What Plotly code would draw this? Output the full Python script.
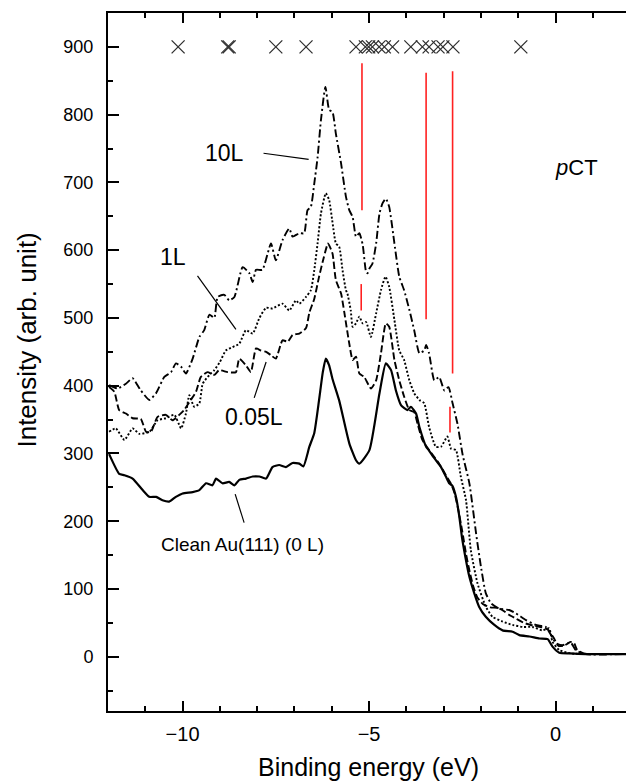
import plotly.graph_objects as go

# ---- photoemission spectra: binding energy (eV) vs intensity (arb. unit) ----
clean_x = [-11.97, -11.70, -11.56, -11.34, -11.07, -10.89, -10.71, -10.54, -10.36, -10.18,
           -10.00, -9.73, -9.55, -9.37, -9.20, -9.10, -8.93, -8.75, -8.61, -8.48,
           -8.30, -8.12, -7.94, -7.76, -7.59, -7.41, -7.23, -7.05, -6.87, -6.76,
           -6.60, -6.47, -6.34, -6.24, -6.16, -6.07, -5.98, -5.80, -5.53, -5.35,
           -5.26, -4.99, -4.72, -4.55, -4.41, -4.28, -4.14, -3.97, -3.88, -3.74,
           -3.65, -3.47, -3.40, -3.25, -3.07, -2.94, -2.85, -2.76, -2.67, -2.58,
           -2.51, -2.42, -2.31, -2.18, -2.05, -1.87, -1.64, -1.42, -1.15, -0.97,
           -0.70, -0.43, -0.21, -0.08, 0.10, 0.37, 0.81, 1.53, 1.89]
clean_y = [299, 270, 268, 263, 246, 236, 236, 231, 229, 236,
           241, 243, 246, 256, 253, 263, 256, 258, 253, 261,
           263, 266, 266, 263, 280, 283, 280, 286, 285, 281,
           310, 330, 379, 420, 440, 430, 410, 378, 315, 290,
           285, 305, 389, 433, 423, 393, 371, 364, 369, 359,
           339, 310, 305, 293, 280, 266, 256, 252, 236, 207,
           177, 148, 118, 94, 74, 59, 47, 39, 37, 32,
           30, 27, 26, 15, 6, 5, 4, 4, 4]

l005_x = [-11.97, -11.83, -11.70, -11.52, -11.34, -11.12, -10.98, -10.85, -10.67, -10.45,
          -10.27, -10.09, -9.96, -9.78, -9.64, -9.51, -9.33, -9.15, -9.02, -8.79,
          -8.57, -8.48, -8.30, -8.17, -8.03, -7.90, -7.76, -7.63, -7.50, -7.32,
          -7.18, -7.05, -6.87, -6.69, -6.60, -6.47, -6.34, -6.21, -6.10, -5.98,
          -5.89, -5.75, -5.66, -5.53, -5.44, -5.35, -5.26, -5.13, -4.95, -4.81,
          -4.68, -4.55, -4.46, -4.32, -4.19, -4.06, -3.92, -3.79, -3.70, -3.57,
          -3.39, -3.12, -2.94, -2.80, -2.70, -2.60, -2.50, -2.40, -2.30, -2.20,
          -2.10, -1.95, -1.75, -1.55, -1.40, -1.25, -1.05, -0.85, -0.60, -0.40,
          -0.20, -0.05, 0.08, 0.25, 0.40, 0.50, 0.58, 0.75, 1.20, 1.89]
l005_y = [398, 391, 364, 359, 352, 351, 332, 332, 354, 357,
          349, 357, 364, 379, 391, 413, 420, 416, 423, 420,
          420, 440, 430, 420, 455, 452, 450, 445, 440, 467,
          465, 475, 477, 485, 508, 528, 561, 590, 610, 595,
          556, 536, 507, 462, 438, 443, 418, 413, 396, 408,
          448, 492, 487, 438, 408, 384, 364, 361, 344, 320,
          305, 285, 268, 255, 240, 215, 185, 152, 125, 103,
          88, 78, 73, 72, 68, 62, 56, 50, 46, 44,
          40, 28, 16, 17, 22, 20, 10, 5, 4, 4]

l1_x = [-11.97, -11.79, -11.56, -11.34, -11.16, -10.89, -10.67, -10.45, -10.22, -10.04,
        -9.91, -9.82, -9.69, -9.55, -9.46, -9.28, -9.15, -9.00, -8.84, -8.66,
        -8.48, -8.30, -8.12, -7.94, -7.76, -7.59, -7.32, -7.14, -6.96, -6.87,
        -6.69, -6.56, -6.47, -6.38, -6.29, -6.16, -6.07, -5.98, -5.89, -5.80,
        -5.71, -5.62, -5.58, -5.49, -5.44, -5.35, -5.26, -5.17, -5.08, -4.95,
        -4.81, -4.68, -4.56, -4.46, -4.32, -4.19, -4.06, -3.92, -3.79, -3.65,
        -3.52, -3.39, -3.21, -3.07, -2.90, -2.80, -2.67, -2.54, -2.40, -2.27,
        -2.09, -1.87, -1.69, -1.42, -1.15, -0.88, -0.62, -0.35, -0.17, -0.08,
        0.10, 0.40, 1.00, 1.89]
l1_y = [332, 337, 320, 337, 329, 332, 349, 352, 357, 337,
        359, 386, 369, 374, 403, 416, 423, 435, 452, 457,
        462, 482, 477, 500, 515, 514, 521, 511, 526, 521,
        531, 541, 570, 610, 654, 684, 674, 641, 610, 605,
        570, 541, 536, 511, 487, 492, 502, 492, 494, 472,
        507, 541, 561, 546, 497, 452, 438, 408, 389, 379,
        374, 339, 310, 310, 325, 307, 305, 266, 231, 157,
        108, 74, 59, 52, 47, 44, 44, 39, 42, 22,
        10, 5, 4, 4]

l10_x = [-11.97, -11.74, -11.52, -11.34, -11.12, -10.89, -10.71, -10.49, -10.31, -10.18,
         -10.04, -9.91, -9.73, -9.55, -9.42, -9.28, -9.15, -9.06, -8.88, -8.75,
         -8.61, -8.39, -8.21, -8.12, -8.03, -7.86, -7.63, -7.50, -7.32, -7.14,
         -7.05, -6.87, -6.74, -6.65, -6.56, -6.47, -6.38, -6.29, -6.17, -6.07,
         -5.98, -5.89, -5.75, -5.62, -5.53, -5.44, -5.35, -5.26, -5.17, -5.08,
         -5.04, -4.99, -4.91, -4.81, -4.72, -4.64, -4.55, -4.46, -4.32, -4.19,
         -4.06, -3.92, -3.79, -3.65, -3.52, -3.47, -3.39, -3.25, -3.12, -2.98,
         -2.87, -2.76, -2.63, -2.49, -2.31, -2.13, -2.00, -1.87, -1.73, -1.51,
         -1.24, -1.06, -0.79, -0.53, -0.26, -0.12, 0.01, 0.19, 0.41, 0.54,
         0.81, 1.89]
l10_y = [401, 396, 403, 411, 393, 379, 389, 413, 420, 433,
         428, 418, 440, 472, 482, 505, 500, 531, 534, 526,
         531, 575, 566, 553, 571, 571, 610, 585, 615, 632,
         620, 625, 625, 659, 664, 698, 737, 792, 841, 807,
         804, 772, 728, 679, 659, 649, 620, 625, 608, 568,
         566, 573, 580, 610, 654, 669, 676, 664, 610, 561,
         541, 512, 482, 448, 452, 460, 448, 408, 413, 393,
         398, 374, 344, 298, 256, 182, 133, 94, 79, 71,
         69, 64, 54, 47, 44, 32, 20, 17, 21, 10,
         4, 4]

# ---- calculated level positions (crosses along the top) ----
level_x = [-10.12, -8.79, -8.75, -7.50, -6.69, -5.35, -5.10, -5.01, -4.91, -4.73,
           -4.59, -4.37, -3.88, -3.57, -3.39, -3.15, -3.02, -2.75, -0.93]
level_y = [900] * len(level_x)

# ---- red marker bars: energy, bottom, top ----
bar_x = [-5.19, -5.21, -3.47, -2.76, -2.83]
bar_lo = [659, 511, 498, 418, 331]
bar_hi = [876, 550, 862, 864, 369]

# ---- curve labels with leader lines ----
label_text = ["10L", "1L", "0.05L"]
label_x = [-8.88, -10.25, -8.08]
label_y = [743, 590, 354]
leader_x0 = [-7.83, -9.60, -7.76, -8.59]
leader_y0 = [743, 562, 435, 240]
leader_x1 = [-6.62, -8.57, -8.08, -8.35]
leader_y1 = [734, 483, 382, 198]

fig = go.Figure()

line_base = dict(color="black", shape="spline", smoothing=0.5)
fig.add_trace(go.Scatter(x=clean_x, y=clean_y, mode="lines",
                         line=dict(width=2.2, dash="solid", **line_base)))
fig.add_trace(go.Scatter(x=l005_x, y=l005_y, mode="lines",
                         line=dict(width=1.9, dash="7px,3px", **line_base)))
fig.add_trace(go.Scatter(x=l1_x, y=l1_y, mode="lines",
                         line=dict(width=1.9, dash="2px,2px", **line_base)))
fig.add_trace(go.Scatter(x=l10_x, y=l10_y, mode="lines",
                         line=dict(width=1.9, dash="8px,3px,2px,3px", **line_base)))

# red bars, drawn as one broken line
rx, ry = [], []
for x, lo, hi in zip(bar_x, bar_lo, bar_hi):
    rx += [x, x, None]
    ry += [lo, hi, None]
fig.add_trace(go.Scatter(x=rx, y=ry, mode="lines",
                         line=dict(color="#ff2020", width=1.6)))

fig.add_trace(go.Scatter(x=level_x, y=level_y, mode="markers",
                         marker=dict(symbol="x-thin", size=13, color="#303030",
                                     line=dict(width=1.3, color="#303030"))))

for x0, y0, x1, y1 in zip(leader_x0, leader_y0, leader_x1, leader_y1):
    fig.add_shape(type="line", x0=x0, y0=y0, x1=x1, y1=y1,
                  line=dict(color="black", width=1.2))

for t, x, y in zip(label_text, label_x, label_y):
    fig.add_annotation(x=x, y=y, text=t, showarrow=False,
                       font=dict(family="Liberation Sans, Arial", size=23, color="black"))

fig.add_annotation(x=-8.40, y=165, text="Clean Au(111) (0 L)", showarrow=False,
                   font=dict(family="Liberation Sans, Arial", size=19, color="black"))
fig.add_annotation(x=0.56, y=722, text="<i>p</i>CT", showarrow=False,
                   font=dict(family="Liberation Sans, Arial", size=22, color="black"))

# axis titles
fig.add_annotation(xref="paper", yref="paper", x=0.503, y=-0.08,
                   xanchor="center", yanchor="middle",
                   text="Binding energy (eV)", showarrow=False,
                   font=dict(family="Liberation Sans, Arial", size=25, color="black"))
fig.add_annotation(xref="paper", yref="paper", x=-0.156, y=0.531,
                   xanchor="center", yanchor="middle",
                   text="Intensity (arb. unit)", showarrow=False, textangle=-90,
                   font=dict(family="Liberation Sans, Arial", size=26, color="black"))

fig.update_layout(
    width=626, height=782, autosize=False,
    margin=dict(l=108, r=0, t=13, b=71),
    paper_bgcolor="white", plot_bgcolor="white",
    showlegend=False,
    xaxis=dict(range=[-12, 1.89], showgrid=False, zeroline=False,
               showline=True, linewidth=2, linecolor="black", mirror="ticks",
               ticks="inside", ticklen=10, tickwidth=1.6, tickcolor="black",
               tickvals=[-10, -5, 0], ticktext=["\u221210", "\u22125", "0"],
               minor=dict(dtick=1, tick0=0, ticks="inside", ticklen=5,
                          tickwidth=1.6, tickcolor="black", showgrid=False),
               ticklabelstandoff=4,
               tickfont=dict(family="Liberation Sans, Arial", size=20, color="black")),
    yaxis=dict(range=[-80, 950], showgrid=False, zeroline=False,
               showline=True, linewidth=2, linecolor="black",
               ticks="inside", ticklen=11, tickwidth=1.6, tickcolor="black",
               tickvals=[0, 100, 200, 300, 400, 500, 600, 700, 800, 900],
               minor=dict(dtick=50, tick0=0, ticks="inside", ticklen=5,
                          tickwidth=1.6, tickcolor="black", showgrid=False),
               ticklabelstandoff=9,
               tickfont=dict(family="Liberation Sans, Arial", size=18, color="black")),
)

fig.write_html("out.html")
